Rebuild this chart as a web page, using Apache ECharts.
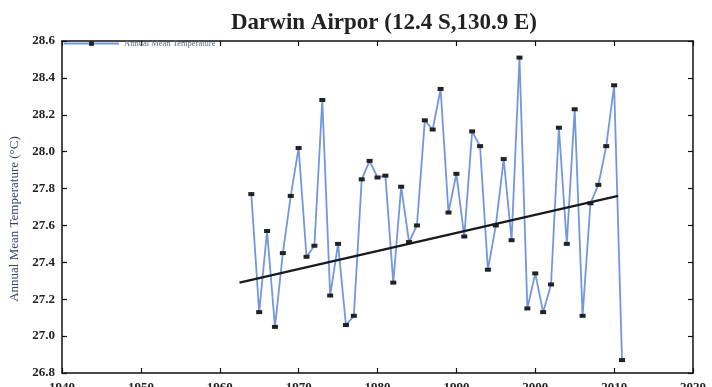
<!DOCTYPE html>
<html>
<head>
<meta charset="utf-8">
<script src="https://cdn.jsdelivr.net/npm/echarts@6/dist/echarts.min.js"></script>
<style>
  html, body { margin: 0; padding: 0; background: #fff; }
  #chart { width: 712px; height: 387px; }
</style>
</head>
<body>
<div id="chart"></div>
<script>
// Annual mean temperature at Darwin Airport, one value per year
const years = [
  1964, 1965, 1966, 1967, 1968, 1969, 1970, 1971, 1972, 1973,
  1974, 1975, 1976, 1977, 1978, 1979, 1980, 1981, 1982, 1983,
  1984, 1985, 1986, 1987, 1988, 1989, 1990, 1991, 1992, 1993,
  1994, 1995, 1996, 1997, 1998, 1999, 2000, 2001, 2002, 2003,
  2004, 2005, 2006, 2007, 2008, 2009, 2010, 2011
];
const temps = [
  27.77, 27.13, 27.57, 27.05, 27.45, 27.76, 28.02, 27.43, 27.49, 28.28,
  27.22, 27.50, 27.06, 27.11, 27.85, 27.95, 27.86, 27.87, 27.29, 27.81,
  27.51, 27.60, 28.17, 28.12, 28.34, 27.67, 27.88, 27.54, 28.11, 28.03,
  27.36, 27.60, 27.96, 27.52, 28.51, 27.15, 27.34, 27.13, 27.28, 28.13,
  27.50, 28.23, 27.11, 27.72, 27.82, 28.03, 28.36, 26.87
];
// Linear trend endpoints
const trendYears = [1962.5, 2010.5];
const trendTemps = [27.29, 27.76];

const serif = '"Liberation Serif", "DejaVu Serif", serif';

const chart = echarts.init(document.getElementById('chart'), null, { renderer: 'canvas' });

const frameLine = { show: true, lineStyle: { color: '#111', width: 1.5 } };
const innerTick = { show: true, inside: true, length: 5, lineStyle: { color: '#111', width: 1.2 } };

chart.setOption({
  animation: false,
  backgroundColor: '#fff',
  title: {
    text: 'Darwin Airpor (12.4 S,130.9 E)',
    left: 379,
    textAlign: 'center',
    top: 7,
    textStyle: { fontFamily: serif, fontSize: 23, fontWeight: 'bold', color: '#222' }
  },
  legend: {
    data: ['Annual Mean Temperature'],
    left: 63,
    top: 39,
    itemWidth: 55,
    itemHeight: 6,
    itemGap: 4,
    padding: 0,
    textStyle: { fontFamily: serif, fontSize: 8.5, color: '#5a6a8a' }
  },
  // plot box is fixed; the bottom year labels are allowed to run off the edge
  grid: { left: 62, right: 19, top: 41, bottom: 14, show: false, outerBoundsMode: 'none', containLabel: false },
  xAxis: [
    {
      type: 'value',
      min: 1940, max: 2020, interval: 10,
      axisLine: frameLine,
      axisTick: innerTick,
      splitLine: { show: false },
      axisLabel: {
        margin: 8,
        fontFamily: serif, fontSize: 13, fontWeight: 'bold', color: '#222',
        formatter: v => String(v)
      }
    },
    {
      type: 'value', position: 'top',
      min: 1940, max: 2020, interval: 10,
      axisLine: frameLine,
      axisTick: innerTick,
      splitLine: { show: false },
      axisLabel: { show: false }
    }
  ],
  yAxis: [
    {
      type: 'value',
      min: 26.8, max: 28.6, interval: 0.2,
      name: 'Annual Mean Temperature (°C)',
      nameLocation: 'middle',
      nameGap: 40,
      nameTextStyle: { fontFamily: serif, fontSize: 13, color: '#34406a', padding: [0, 24, 0, 0] },
      axisLine: frameLine,
      axisTick: innerTick,
      splitLine: { show: false },
      axisLabel: {
        margin: 7,
        fontFamily: serif, fontSize: 13, fontWeight: 'bold', color: '#222',
        formatter: v => v.toFixed(1)
      }
    },
    {
      type: 'value', position: 'right',
      min: 26.8, max: 28.6, interval: 0.2,
      axisLine: frameLine,
      axisTick: innerTick,
      splitLine: { show: false },
      axisLabel: { show: false }
    }
  ],
  series: [
    {
      name: 'Annual Mean Temperature',
      type: 'line',
      data: years.map((y, i) => [y, temps[i]]),
      symbol: 'rect',
      symbolSize: [6, 4],
      showAllSymbol: true,
      itemStyle: { color: '#222' },
      lineStyle: { color: '#7397de', width: 1.8 },
      z: 3
    },
    {
      name: 'Trend',
      type: 'line',
      data: trendYears.map((y, i) => [y, trendTemps[i]]),
      symbol: 'none',
      lineStyle: { color: '#1a1a1a', width: 2.4 },
      z: 4
    }
  ]
});
</script>
</body>
</html>
